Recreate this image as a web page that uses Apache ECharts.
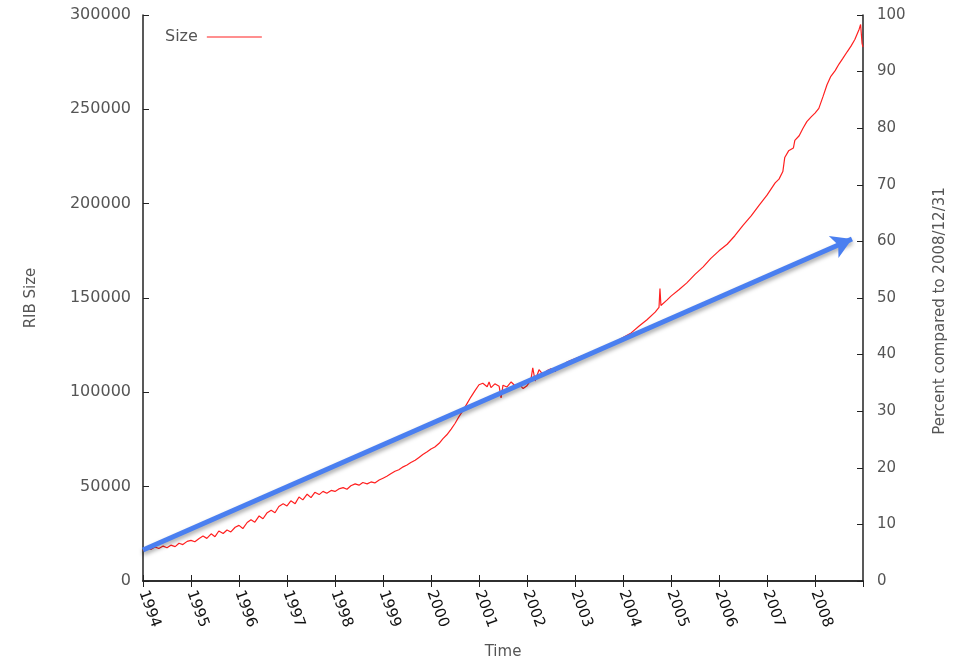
<!DOCTYPE html>
<html><head><meta charset="utf-8">
<script src="https://cdn.jsdelivr.net/npm/echarts@6/dist/echarts.min.js"></script>
<style>html,body{margin:0;padding:0;background:#fff}#c{width:960px;height:659px}</style>
</head><body><div id="c"></div>
<script>
const yearTicks = [1994,1995,1996,1997,1998,1999,2000,2001,2002,2003,2004,2005,2006,2007,2008];
const leftTicks = [0,50000,100000,150000,200000,250000,300000];
const rightTicks = [0,10,20,30,40,50,60,70,80,90,100];
const times = [1994.00,1994.08,1994.17,1994.25,1994.33,1994.42,1994.50,1994.58,1994.67,1994.75,1994.83,1994.92,
1995.00,1995.08,1995.17,1995.25,1995.33,1995.42,1995.50,1995.58,1995.67,1995.75,1995.83,1995.92,
1996.00,1996.08,1996.17,1996.25,1996.33,1996.42,1996.50,1996.58,1996.67,1996.75,1996.83,1996.92,
1997.00,1997.08,1997.17,1997.25,1997.33,1997.42,1997.50,1997.58,1997.67,1997.75,1997.83,1997.92,
1998.00,1998.08,1998.17,1998.25,1998.33,1998.42,1998.50,1998.58,1998.67,1998.75,1998.83,1998.92,
1999.00,1999.08,1999.17,1999.25,1999.33,1999.42,1999.50,1999.58,1999.67,1999.75,1999.83,1999.92,
2000.00,2000.08,2000.17,2000.25,2000.33,2000.42,2000.50,2000.58,2000.67,2000.75,2000.83,2000.92,
2001.00,2001.08,2001.17,2001.21,2001.25,2001.33,2001.42,2001.46,2001.50,2001.58,2001.67,2001.75,2001.83,2001.92,
2002.00,2002.08,2002.12,2002.17,2002.25,2002.33,2002.42,2002.50,2002.58,2002.67,2002.75,2002.83,2002.92,
2003.00,2003.17,2003.33,2003.50,2003.67,2003.83,
2004.00,2004.17,2004.33,2004.50,2004.67,2004.75,2004.77,2004.79,2004.92,
2005.00,2005.17,2005.33,2005.50,2005.67,2005.83,
2006.00,2006.17,2006.33,2006.50,2006.67,2006.83,
2007.00,2007.17,2007.25,2007.33,2007.37,2007.45,2007.55,2007.58,2007.67,2007.75,2007.83,2007.92,
2008.00,2008.08,2008.12,2008.17,2008.25,2008.33,2008.42,2008.50,2008.58,2008.67,2008.75,2008.83,2008.92,2008.95,2008.98,2009.00];
const ribSize = [16000,17500,16800,18000,17200,18500,17600,19000,18200,20000,19300,21000,
21500,20800,22500,23800,22600,25000,23500,26500,25200,27000,26000,28500,
29500,27800,31000,32500,31200,34500,33000,36000,37500,36200,39500,41000,
39800,42500,41000,44500,43000,46000,44200,47000,45800,47500,46500,48000,
47500,48800,49500,48600,50500,51500,50800,52200,51500,52500,52000,53500,
54500,55500,57000,58200,59000,60500,61500,62800,64000,65500,67000,68500,
70000,71000,73000,75500,77500,80500,83500,87000,90500,94000,97500,101000,
104000,104800,103000,105500,102500,104500,103200,97000,103800,102800,105500,103500,104500,102000,
103500,106500,113000,106000,112000,109500,111500,112500,111000,113500,114500,116000,117000,
117800,119500,121000,122500,124000,126500,
129000,131500,135000,138500,142500,145000,155000,146000,149000,
151000,154500,158000,162500,166500,171000,
175000,178500,183000,188500,193500,199000,
204500,211000,213000,217000,224500,228000,229500,233500,236000,240000,243500,246000,
248000,250500,249500,257000,263000,267500,270500,274000,277000,280500,283500,287000,292500,295000,285000,283000];
const arrowFrom = [1994.0, 16400];
const arrowTo = [2008.77, 181300];

const seriesData = times.map((t, i) => [t, ribSize[i]]);
const txt = '#555';
const fontFam = 'DejaVu Sans';
const axisLine = {show: true, lineStyle: {color: '#222', width: 1.5}};
const tick = {show: true, inside: false, length: -6, lineStyle: {color: '#222', width: 1}};
const chart = echarts.init(document.getElementById('c'));
chart.setOption({
  animation: false,
  backgroundColor: '#fff',
  grid: {left: 143, right: 97, top: 15, bottom: 78, containLabel: false, outerBoundsMode: 'none'},
  legend: {
    data: ['Size'], left: 160, top: 24, align: 'right', icon: 'rect',
    itemWidth: 55, itemHeight: 1, itemGap: 10,
    textStyle: {color: txt, fontSize: 16, fontFamily: fontFam, padding: [0, 4, 0, 0]}
  },
  xAxis: [{
    type: 'value', position: 'bottom', min: yearTicks[0], max: 2009, interval: 1,
    name: 'Time', nameLocation: 'middle', nameGap: 64,
    nameTextStyle: {color: txt, fontSize: 15, fontFamily: fontFam},
    axisLine: axisLine,
    axisTick: tick,
    splitLine: {show: false},
    axisLabel: {rotate: -70, color: '#111', fontSize: 15, fontFamily: fontFam, margin: 10,
      showMaxLabel: false,
      formatter: v => yearTicks.includes(v) ? String(v) : ''}
  }, {
    type: 'value', position: 'top', min: yearTicks[0], max: 2009, interval: 1,
    axisLine: axisLine,
    axisTick: tick,
    axisLabel: {show: false}, splitLine: {show: false}
  }],
  yAxis: [{
    type: 'value', position: 'left', min: leftTicks[0], max: leftTicks[leftTicks.length-1], interval: 50000,
    name: 'RIB Size', nameLocation: 'middle', nameGap: 104,
    nameTextStyle: {color: txt, fontSize: 15, fontFamily: fontFam},
    axisLine: axisLine,
    axisTick: tick,
    splitLine: {show: false},
    axisLabel: {color: txt, fontSize: 16, fontFamily: fontFam, margin: 12, formatter: v => String(v)}
  }, {
    type: 'value', position: 'right', min: rightTicks[0], max: rightTicks[rightTicks.length-1], interval: 10,
    name: 'Percent compared to 2008/12/31', nameLocation: 'middle', nameGap: 70, nameRotate: 90,
    nameTextStyle: {color: txt, fontSize: 15, fontFamily: fontFam, padding: [0, 26, 0, 0]},
    axisLine: axisLine,
    axisTick: tick,
    splitLine: {show: false},
    axisLabel: {color: txt, fontSize: 15, fontFamily: fontFam, margin: 14, formatter: v => String(v)}
  }],
  series: [{
    name: 'Size', type: 'line', xAxisIndex: 0, yAxisIndex: 0,
    data: seriesData, showSymbol: false, symbol: 'none',
    lineStyle: {color: '#ff2020', width: 1.2},
    itemStyle: {color: '#ff2020'},
    markLine: {
      silent: true, symbol: ['none', 'arrow'], symbolSize: [18, 20],
      label: {show: false},
      lineStyle: {color: '#4a7ff0', width: 5, type: 'solid',
        shadowColor: 'rgba(0,0,0,0.35)', shadowBlur: 4, shadowOffsetY: 3},
      data: [[{coord: arrowFrom}, {coord: arrowTo}]]
    }
  }]
});
</script></body></html>
